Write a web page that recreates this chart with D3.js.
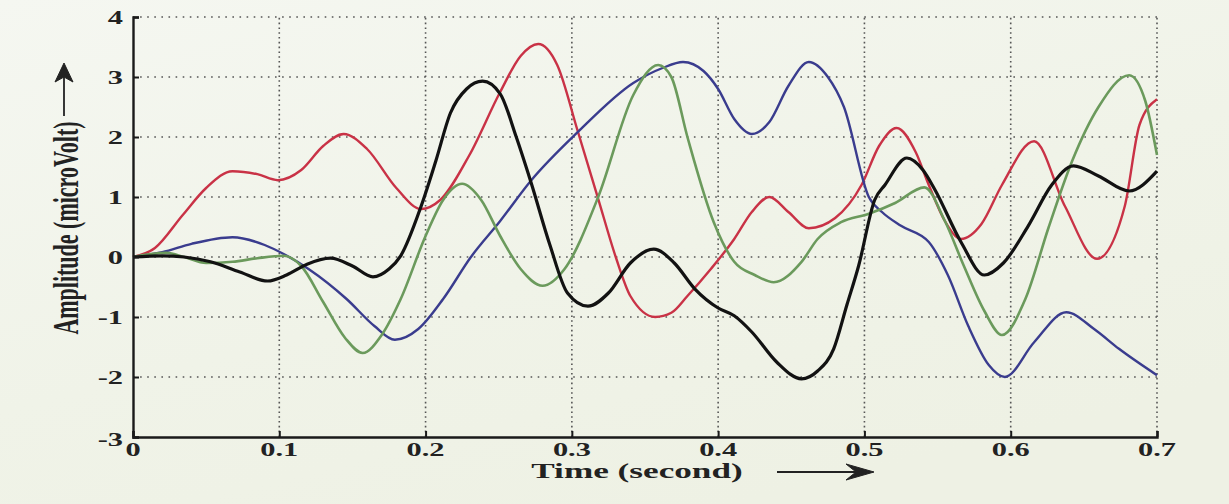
<!DOCTYPE html>
<html>
<head>
<meta charset="utf-8">
<script src="https://cdnjs.cloudflare.com/ajax/libs/d3/7.8.5/d3.min.js"></script>
<style>
    body { margin: 0; background: #f0f3e8; }
    #chart { width: 1229px; height: 504px; }
    text { font-family: "Liberation Serif", "Times New Roman", serif; font-weight: bold; fill: #222; }
</style>
</head>
<body>
<div id="chart"></div>
<script>
/* global d3 */

// time (s) and amplitude (microVolt) pairs
var red = [[0,0],[0.015,0.15],[0.034,0.7],[0.05,1.15],[0.068,1.43],[0.085,1.38],[0.099,1.28],[0.115,1.45],
    [0.13,1.85],[0.144,2.05],[0.16,1.8],[0.18,1.15],[0.197,0.8],[0.21,0.95],[0.23,1.7],[0.251,2.75],[0.265,3.35],
    [0.277,3.55],[0.29,3.2],[0.304,2.1],[0.318,0.97],[0.33,0.0],[0.34,-0.65],[0.357,-1.0],[0.368,-0.93],[0.379,-0.65],
    [0.395,-0.2],[0.411,0.3],[0.423,0.75],[0.435,1.0],[0.448,0.75],[0.462,0.48],[0.48,0.65],[0.498,1.2],[0.51,1.85],
    [0.522,2.15],[0.535,1.75],[0.544,1.2],[0.555,0.6],[0.566,0.3],[0.58,0.55],[0.594,1.2],[0.616,1.93],[0.637,0.85],
    [0.659,-0.03],[0.678,0.85],[0.688,2.2],[0.7,2.63]];

var blue = [[0,0],[0.02,0.08],[0.04,0.22],[0.068,0.33],[0.09,0.2],[0.103,0.05],[0.12,-0.2],[0.146,-0.7],
    [0.165,-1.15],[0.179,-1.38],[0.195,-1.2],[0.212,-0.7],[0.231,0],[0.251,0.6],[0.272,1.27],[0.304,2.08],
    [0.342,2.9],[0.362,3.15],[0.376,3.25],[0.39,3.1],[0.4,2.8],[0.411,2.3],[0.423,2.05],[0.435,2.25],[0.448,2.85],
    [0.462,3.25],[0.475,3.0],[0.486,2.5],[0.503,1.0],[0.512,0.75],[0.525,0.52],[0.544,0.25],[0.557,-0.3],
    [0.571,-1.15],[0.585,-1.8],[0.596,-2.0],[0.616,-1.42],[0.638,-0.92],[0.657,-1.2],[0.674,-1.53],[0.7,-1.97]];

var green = [[0,0],[0.012,0.05],[0.023,0.07],[0.035,0.0],[0.05,-0.1],[0.068,-0.08],[0.085,-0.02],[0.103,0.02],
    [0.115,-0.15],[0.13,-0.75],[0.145,-1.35],[0.157,-1.6],[0.17,-1.3],[0.183,-0.7],[0.2,0.35],[0.212,0.95],
    [0.225,1.22],[0.238,0.95],[0.251,0.35],[0.265,-0.2],[0.28,-0.48],[0.295,-0.2],[0.318,1.0],[0.342,2.7],
    [0.359,3.2],[0.368,3.0],[0.379,2.0],[0.397,0.58],[0.411,-0.08],[0.425,-0.3],[0.438,-0.42],[0.457,-0.08],
    [0.468,0.3],[0.484,0.58],[0.503,0.72],[0.521,0.9],[0.541,1.16],[0.555,0.6],[0.568,-0.15],[0.582,-0.9],
    [0.594,-1.3],[0.61,-0.7],[0.626,0.5],[0.642,1.6],[0.66,2.5],[0.681,3.03],[0.692,2.6],[0.7,1.7]];

var black = [[0,0],[0.02,0.02],[0.035,0.0],[0.053,-0.08],[0.073,-0.25],[0.092,-0.4],[0.105,-0.3],[0.119,-0.12],
    [0.135,-0.02],[0.15,-0.15],[0.164,-0.33],[0.175,-0.2],[0.183,0.02],[0.197,0.85],[0.207,1.6],[0.217,2.4],
    [0.228,2.8],[0.239,2.93],[0.251,2.72],[0.262,2.0],[0.272,1.25],[0.285,0.2],[0.297,-0.6],[0.311,-0.82],
    [0.325,-0.6],[0.34,-0.1],[0.356,0.13],[0.37,-0.1],[0.384,-0.53],[0.4,-0.85],[0.411,-0.98],[0.423,-1.25],
    [0.44,-1.75],[0.457,-2.03],[0.468,-1.9],[0.479,-1.53],[0.488,-0.8],[0.496,-0.15],[0.507,0.95],[0.514,1.2],
    [0.529,1.65],[0.54,1.45],[0.548,1.13],[0.566,0.25],[0.582,-0.3],[0.595,-0.1],[0.612,0.52],[0.628,1.2],
    [0.643,1.52],[0.66,1.35],[0.681,1.1],[0.7,1.43]];

var xTicks = [0, 0.1, 0.2, 0.3, 0.4, 0.5, 0.6, 0.7];
var yTicks = [-3, -2, -1, 0, 1, 2, 3, 4];

var series = [
    {name: "red", values: red, color: "#c93246", width: 2.4},
    {name: "blue", values: blue, color: "#3a3c8e", width: 2.4},
    {name: "green", values: green, color: "#6b9a5c", width: 2.6},
    {name: "black", values: black, color: "#121212", width: 3.2}
];

(function () {
    "use strict";

    const width = 1229,
          height = 504,
          margin = {left: 133, right: 72, top: 17, bottom: 67},
          stretch = 1.6; // the photo is wide, so text is stretched sideways

    var svg = d3.select("#chart").append("svg")
        .attr("width", width)
        .attr("height", height);

    var defs = svg.append("defs");
    var grad = defs.append("linearGradient")
        .attr("id", "paper")
        .attr("x1", "0").attr("y1", "0")
        .attr("x2", "0.6").attr("y2", "1");
    grad.append("stop").attr("offset", "0").attr("stop-color", "#f5f7f1");
    grad.append("stop").attr("offset", "0.6").attr("stop-color", "#f0f3e8");
    grad.append("stop").attr("offset", "1").attr("stop-color", "#eef1e4");
    svg.append("rect")
        .attr("width", width)
        .attr("height", height)
        .attr("fill", "url(#paper)");

    var x = d3.scaleLinear().domain([0, 0.7]).range([margin.left, width - margin.right]);
    var y = d3.scaleLinear().domain([-3, 4]).range([height - margin.bottom, margin.top]);

    // dotted grid
    var grid = svg.append("g").attr("class", "grid");
    grid.selectAll(".vgrid")
        .data(xTicks.filter(function (d) { return d > 0; }))
        .enter().append("line")
        .attr("x1", function (d) { return x(d); })
        .attr("x2", function (d) { return x(d); })
        .attr("y1", y(-3))
        .attr("y2", y(4))
        .attr("stroke", "#555")
        .attr("stroke-width", 1.6)
        .attr("stroke-dasharray", "1.6,3.2");
    grid.selectAll(".hgrid")
        .data(yTicks.filter(function (d) { return d > -3; }))
        .enter().append("line")
        .attr("x1", x(0))
        .attr("x2", x(0.7))
        .attr("y1", function (d) { return y(d); })
        .attr("y2", function (d) { return y(d); })
        .attr("stroke", "#555")
        .attr("stroke-width", 1.6)
        .attr("stroke-dasharray", "1.6,5.5");

    // lines
    var line = d3.line()
        .x(function (d) { return x(d[0]); })
        .y(function (d) { return y(d[1]); })
        .curve(d3.curveMonotoneX);

    svg.append("g").selectAll("path")
        .data(series)
        .enter().append("path")
        .attr("d", function (d) { return line(d.values); })
        .attr("fill", "none")
        .attr("stroke", function (d) { return d.color; })
        .attr("stroke-width", function (d) { return d.width; })
        .attr("stroke-linejoin", "round");

    // axes with inward ticks
    var xAxis = svg.append("g")
        .attr("transform", "translate(0," + y(-3) + ")")
        .call(d3.axisBottom(x).tickValues(xTicks).tickSize(-6).tickFormat(""));
    var yAxis = svg.append("g")
        .attr("transform", "translate(" + x(0) + ",0)")
        .call(d3.axisLeft(y).tickValues(yTicks).tickSize(-6).tickFormat(""));
    [xAxis, yAxis].forEach(function (a) {
        a.select(".domain").attr("stroke", "#1a1a1a").attr("stroke-width", 2.4);
        a.selectAll(".tick line").attr("stroke", "#1a1a1a").attr("stroke-width", 2);
    });

    // tick labels, stretched sideways like the photo
    svg.append("g").selectAll("text")
        .data(xTicks)
        .enter().append("text")
        .attr("transform", function (d) {
            return "translate(" + x(d) + "," + (y(-3) + 19) + ") scale(" + stretch + ",1)";
        })
        .attr("text-anchor", "middle")
        .style("font-size", "19px")
        .text(function (d) { return d === 0 ? "0" : d3.format(".1f")(d); });

    svg.append("g").selectAll("text")
        .data(yTicks)
        .enter().append("text")
        .attr("transform", function (d) {
            return "translate(" + (x(0) - 10) + "," + (y(d) + (d === -3 ? 9 : 7)) + ") scale(" + stretch + ",1)";
        })
        .attr("text-anchor", "end")
        .style("font-size", "19px")
        .text(function (d) { return d; });

    // axis titles
    svg.append("text")
        .attr("transform", "translate(637,478) scale(" + stretch + ",1)")
        .attr("text-anchor", "middle")
        .style("font-size", "22px")
        .text("Time (second)");

    svg.append("text")
        .attr("transform", "translate(66,228) rotate(-90) scale(1," + stretch + ")")
        .attr("text-anchor", "middle")
        .attr("dy", "0.33em")
        .style("font-size", "22px")
        .text("Amplitude (microVolt)");

    // arrows beside the titles
    var arrows = svg.append("g").attr("fill", "#222").attr("stroke", "#222");
    arrows.append("line")
        .attr("x1", 777).attr("x2", 862)
        .attr("y1", 472).attr("y2", 472)
        .attr("stroke-width", 1.8);
    arrows.append("path")
        .attr("d", "M874,472 L846,464 L856,472 L846,480 Z")
        .attr("stroke-width", 1);
    arrows.append("line")
        .attr("x1", 64).attr("x2", 64)
        .attr("y1", 116).attr("y2", 76)
        .attr("stroke-width", 1.8);
    arrows.append("path")
        .attr("d", "M64,63 L55,82 L64,77 L73,82 Z")
        .attr("stroke-width", 1);
})();
</script>
</body>
</html>
